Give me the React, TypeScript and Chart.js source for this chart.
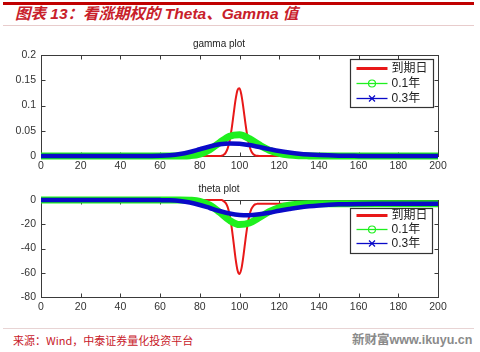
import React, { useEffect, useRef } from 'react';
import { Chart, registerables } from 'chart.js';

Chart.register(...registerables);

// ---------- data ----------
const seriesNames = ['到期日', '0.1年', '0.3年'];
const xTicks = [0, 20, 40, 60, 80, 100, 120, 140, 160, 180, 200];
const gammaTicks = [0, 0.05, 0.1, 0.15, 0.2];
const thetaTicks = [-80, -60, -40, -20, 0];

// expiry curve sampled finely around the strike
const xExpiry = [0, 85, 90, 91, 92, 93, 94, 95, 96, 97, 98, 99, 100, 101, 102, 103, 104, 105, 106, 107, 108, 109, 110, 120, 140, 160, 180, 200];
const gammaExpiry = [0, 0, 0, 0.0005, 0.0023, 0.0062, 0.0145, 0.0297, 0.0528, 0.082, 0.111, 0.1305, 0.134, 0.12, 0.094, 0.064, 0.038, 0.0197, 0.0089, 0.0035, 0.001, 0.0003, 0, 0, 0, 0, 0, 0];
const thetaExpiry = [0, 0, 0, 0, -0.9, -2.4, -5.7, -12.0, -21.9, -34.7, -48.1, -57.9, -61.1, -56.4, -45.8, -32.8, -21.1, -12.6, -7.4, -4.8, -3.5, -3.15, -3.05, -3, -3, -3, -3, -3];

// 0.1 year and 0.3 year curves
const xSmooth = [0, 10, 20, 30, 40, 50, 60, 65, 70, 75, 80, 85, 90, 95, 100, 105, 110, 115, 120, 125, 130, 135, 140, 150, 160, 170, 180, 190, 200];
const gamma01 = [0, 0, 0, 0, 0, 0, 0, 0, 0.0001, 0.0007, 0.0037, 0.0125, 0.0266, 0.0392, 0.0422, 0.0342, 0.022, 0.0115, 0.0051, 0.0019, 0.0006, 0.0002, 0, 0, 0, 0, 0, 0, 0];
const gamma03 = [0, 0, 0, 0, 0, 0, 0.0004, 0.0015, 0.0039, 0.008, 0.0134, 0.0189, 0.0231, 0.0249, 0.0244, 0.0216, 0.0177, 0.0137, 0.0099, 0.0069, 0.0045, 0.0029, 0.0018, 0.0006, 0.0002, 0, 0, 0, 0];
const theta01 = [0, 0, 0, 0, 0, 0, 0, 0, 0, -0.2, -1.1, -4.2, -10.1, -16.8, -20.3, -19.0, -14.5, -9.6, -6.2, -4.3, -3.5, -3.1, -3.0, -3, -3, -3, -3, -3, -3];
const theta03 = [0, 0, 0, 0, 0, 0, -0.1, -0.3, -0.9, -2.1, -4.1, -6.6, -9.1, -11.1, -12.3, -12.5, -11.7, -10.5, -8.9, -7.5, -6.2, -5.2, -4.5, -3.6, -3.2, -3.05, -3, -3, -3];

// ---------- style ----------
const RED = '#e81818';
const GREEN = '#1ef01e';
const BLUE = '#0a0ac8';
const FONT = "'Liberation Sans', Arial, 'Noto Sans CJK SC', sans-serif";

const pts = (xs: number[], ys: number[]) => xs.map((x, i) => ({ x, y: ys[i] }));

const boxPlugin = {
  id: 'mlBox',
  beforeDatasetsDraw(chart: any) {
    const { ctx, chartArea: a, scales } = chart;
    ctx.save();
    ctx.strokeStyle = '#3a3a3a';
    ctx.lineWidth = 1;
    const L = Math.round(a.left) + 0.5, T = Math.round(a.top) + 0.5;
    const R = Math.round(a.right) + 0.5, B = Math.round(a.bottom) + 0.5;
    ctx.strokeRect(L, T, R - L, B - T);
    const tl = 4;
    ctx.beginPath();
    scales.x.ticks.forEach((t: any) => {
      const px = Math.round(scales.x.getPixelForValue(t.value)) + 0.5;
      ctx.moveTo(px, B); ctx.lineTo(px, B - tl);
      ctx.moveTo(px, T); ctx.lineTo(px, T + tl);
    });
    scales.y.ticks.forEach((t: any) => {
      const py = Math.round(scales.y.getPixelForValue(t.value)) + 0.5;
      ctx.moveTo(L, py); ctx.lineTo(L + tl, py);
      ctx.moveTo(R, py); ctx.lineTo(R - tl, py);
    });
    ctx.stroke();
    ctx.restore();
  },
};

type LegendCfg = { right: number; top: number; w: number; h: number; row0: number; gap: number };

const makeLegendPlugin = (cfg: LegendCfg) => ({
  id: 'mlLegend',
  afterDatasetsDraw(chart: any) {
    const { ctx, chartArea: a } = chart;
    const x0 = Math.round(a.right - cfg.right - cfg.w) + 0.5;
    const y0 = Math.round(a.top + cfg.top) + 0.5;
    ctx.save();
    ctx.fillStyle = '#ffffff';
    ctx.fillRect(x0, y0, cfg.w, cfg.h);
    ctx.strokeStyle = '#333333';
    ctx.lineWidth = 1.2;
    ctx.strokeRect(x0, y0, cfg.w, cfg.h);
    const colors = [RED, GREEN, BLUE];
    seriesNames.forEach((name, i) => {
      const y = y0 + cfg.row0 + i * cfg.gap;
      const lx0 = x0 + 6, lx1 = x0 + 37, mx = (lx0 + lx1) / 2;
      ctx.strokeStyle = colors[i];
      ctx.lineWidth = i === 0 ? 3 : 1.3;
      ctx.beginPath();
      ctx.moveTo(lx0, y); ctx.lineTo(lx1, y);
      ctx.stroke();
      ctx.lineWidth = 1.2;
      if (i === 1) {
        ctx.beginPath();
        ctx.arc(mx, y, 3.5, 0, Math.PI * 2);
        ctx.stroke();
      } else if (i === 2) {
        ctx.beginPath();
        ctx.moveTo(mx - 3, y - 3); ctx.lineTo(mx + 3, y + 3);
        ctx.moveTo(mx - 3, y + 3); ctx.lineTo(mx + 3, y - 3);
        ctx.stroke();
      }
      ctx.fillStyle = '#222222';
      ctx.font = `12px ${FONT}`;
      ctx.textBaseline = 'middle';
      ctx.textAlign = 'left';
      ctx.fillText(name, x0 + 41, y + 0.5);
    });
    ctx.restore();
  },
});

const makeConfig = (
  title: string,
  yMin: number,
  yMax: number,
  yTicks: number[],
  yFmt: (v: number) => string,
  red: { x: number; y: number }[],
  green: { x: number; y: number }[],
  blue: { x: number; y: number }[],
  legend: LegendCfg
): any => ({
  type: 'line',
  data: {
    datasets: [
      { label: seriesNames[0], data: red, borderColor: RED, borderWidth: 2, pointRadius: 0, clip: false, order: 3, cubicInterpolationMode: 'monotone' },
      { label: seriesNames[1], data: green, borderColor: GREEN, borderWidth: 7, pointRadius: 0, clip: false, order: 2, cubicInterpolationMode: 'monotone' },
      { label: seriesNames[2], data: blue, borderColor: BLUE, borderWidth: 4.5, pointRadius: 0, clip: false, order: 1, cubicInterpolationMode: 'monotone' },
    ],
  },
  options: {
    responsive: false,
    animation: false,
    events: [],
    layout: { padding: { left: 0, right: 42, top: 0, bottom: 0 } },
    plugins: {
      legend: { display: false },
      tooltip: { enabled: false },
      title: {
        display: true,
        text: title,
        color: '#222222',
        font: { family: FONT, size: 10, weight: 'normal', lineHeight: 1.2 },
        padding: { top: 1, bottom: 5 },
      },
    },
    scales: {
      x: {
        type: 'linear',
        min: 0,
        max: 200,
        grid: { display: false, drawTicks: false },
        border: { display: false },
        ticks: { color: '#333333', font: { family: FONT, size: 10.5 }, padding: 4, maxRotation: 0 },
        afterBuildTicks: (s: any) => { s.ticks = xTicks.map((v) => ({ value: v })); },
        afterFit: (s: any) => { s.height = 17; },
      },
      y: {
        type: 'linear',
        min: yMin,
        max: yMax,
        grid: { display: false, drawTicks: false },
        border: { display: false },
        ticks: { color: '#333333', font: { family: FONT, size: 10.5 }, padding: 5, callback: (v: any) => yFmt(Number(v)) },
        afterBuildTicks: (s: any) => { s.ticks = yTicks.map((v) => ({ value: v })); },
        afterFit: (s: any) => { s.width = 41; },
      },
    },
  },
  plugins: [boxPlugin, makeLegendPlugin(legend)],
});

function App() {
  const gRef = useRef<HTMLCanvasElement>(null);
  const tRef = useRef<HTMLCanvasElement>(null);

  useEffect(() => {
    const g = new Chart(
      gRef.current as HTMLCanvasElement,
      makeConfig(
        'gamma plot', 0, 0.2, gammaTicks, (v) => String(Math.round(v * 100) / 100),
        pts(xExpiry, gammaExpiry), pts(xSmooth, gamma01), pts(xSmooth, gamma03),
        { right: 5, top: 4, w: 83, h: 48, row0: 9, gap: 15 }
      )
    );
    const t = new Chart(
      tRef.current as HTMLCanvasElement,
      makeConfig(
        'theta plot', -80, 0, thetaTicks, (v) => String(v),
        pts(xExpiry, thetaExpiry), pts(xSmooth, theta01), pts(xSmooth, theta03),
        { right: 6, top: 8, w: 82, h: 45, row0: 7, gap: 14 }
      )
    );
    return () => { g.destroy(); t.destroy(); };
  }, []);

  const abs = (o: React.CSSProperties): React.CSSProperties => ({ position: 'absolute', ...o });

  return (
    <div style={abs({ left: 0, top: 0, width: 480, height: 352, background: '#ffffff', overflow: 'hidden' })}>
      <div style={abs({ left: 3, top: 2, width: 471, height: 3, background: '#c00000' })} />
      <div
        style={abs({
          left: 15, top: 5, height: 18, lineHeight: '18px', whiteSpace: 'nowrap',
          fontFamily: FONT, fontStyle: 'italic', fontWeight: 'bold', fontSize: 15.5, color: '#c8202a',
        })}
      >
        图表 13：看涨期权的 Theta、Gamma 值
      </div>
      <div style={abs({ left: 3, top: 25, width: 471, height: 1, background: '#e8cccc' })} />
      <canvas ref={gRef} width={480} height={136} style={abs({ left: 0, top: 37, width: 480, height: 136 })} />
      <canvas ref={tRef} width={480} height={132} style={abs({ left: 0, top: 182, width: 480, height: 132 })} />
      <div style={abs({ left: 3, top: 328, width: 471, height: 1, background: '#e8d4d4' })} />
      <div
        style={abs({
          left: 13, top: 333, height: 14, lineHeight: '14px', whiteSpace: 'nowrap',
          fontFamily: "'Noto Sans CJK SC', sans-serif", fontSize: 11, color: '#c8202a',
        })}
      >
        来源：Wind，中泰证券量化投资平台
      </div>
      <div
        style={abs({
          left: 352, top: 332, height: 16, lineHeight: '16px', whiteSpace: 'nowrap',
          fontFamily: FONT, fontWeight: 'bold', fontSize: 12.5, color: '#8a8a8a',
        })}
      >
        新财富www.ikuyu.cn
      </div>
    </div>
  );
}

export default App;
